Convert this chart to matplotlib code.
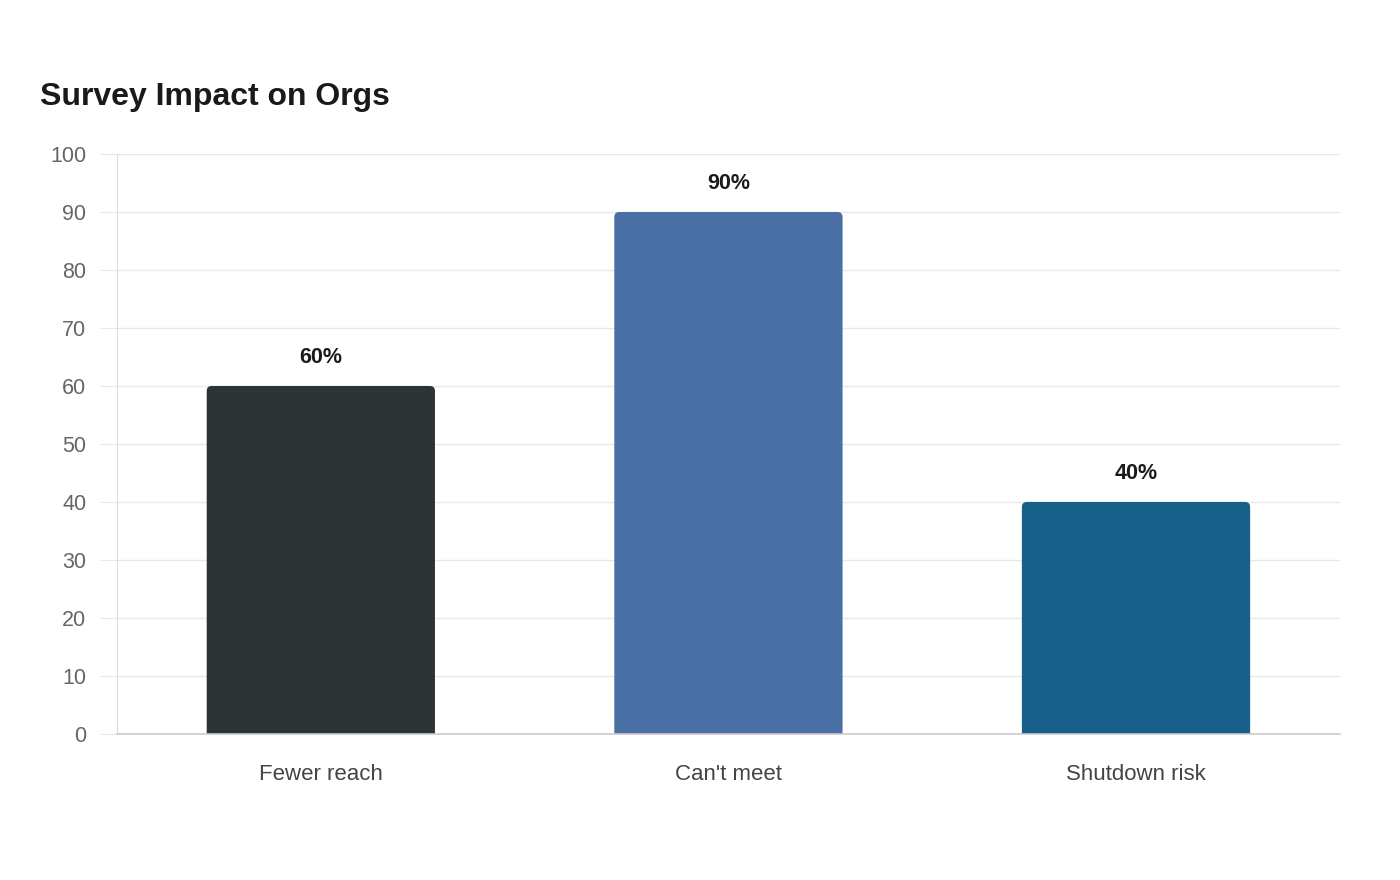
import matplotlib
matplotlib.use("Agg")
import matplotlib.pyplot as plt
from matplotlib.patches import FancyBboxPatch

categories = ["Fewer reach", "Can't meet", "Shutdown risk"]
values = [60, 90, 40]
bar_colors = ["#2d3436", "#4a6fa5", "#17608a"]
yticks = [0, 10, 20, 30, 40, 50, 60, 70, 80, 90, 100]

plt.rcParams["font.family"] = ["Liberation Sans", "DejaVu Sans"]

fig = plt.figure(figsize=(14, 8.8), dpi=100)
ax = fig.add_axes([0.0836, 0.166, 0.8734, 0.659])
ax.set_xlim(-0.5, 2.5)
ax.set_ylim(0, 100)

x = list(range(len(categories)))
bars = ax.bar(x, values, width=0.56, color=bar_colors, zorder=3)

# swap plain bars for ones with slightly rounded tops
px_w = ax.transData.transform((1, 0))[0] - ax.transData.transform((0, 0))[0]
px_h = ax.transData.transform((0, 1))[1] - ax.transData.transform((0, 0))[1]
r = 5
for b in bars:
    b.set_visible(False)
    drop = r / px_h  # start below zero so bottom corners get clipped away
    patch = FancyBboxPatch(
        (b.get_x(), -drop), b.get_width(), b.get_height() + drop,
        boxstyle="round,pad=0,rounding_size=%f" % (r / px_w),
        mutation_aspect=px_w / px_h,
        facecolor=b.get_facecolor(), edgecolor="none", zorder=3,
    )
    ax.add_patch(patch)

for xi, v in zip(x, values):
    ax.text(xi, v + 3.1, f"{v}%", ha="center", va="bottom", fontsize=15.5,
            fontweight="bold", color="#1a1a1a")

ax.set_yticks(yticks)
ax.set_xticks(x)
ax.set_xticklabels(categories)

ax.grid(axis="y", color="#e8e8e8", linewidth=1, zorder=0)
for side in ["top", "right"]:
    ax.spines[side].set_visible(False)
ax.spines["left"].set_color("#dddddd")
ax.spines["bottom"].set_color("#cccccc")
ax.spines["bottom"].set_linewidth(1.2)
ax.spines["bottom"].set_zorder(4)

ax.tick_params(axis="y", length=12, color="#e8e8e8", labelsize=15.5,
               labelcolor="#666666", pad=10)
ax.tick_params(axis="x", length=0, labelsize=16, labelcolor="#444444", pad=22)

fig.text(40 / 1400, 1 - 97 / 880, "Survey Impact on Orgs", fontsize=23,
         fontweight="bold", color="#1a1a1a", ha="left", va="center")

plt.savefig("out.png", dpi=100, facecolor="white")
